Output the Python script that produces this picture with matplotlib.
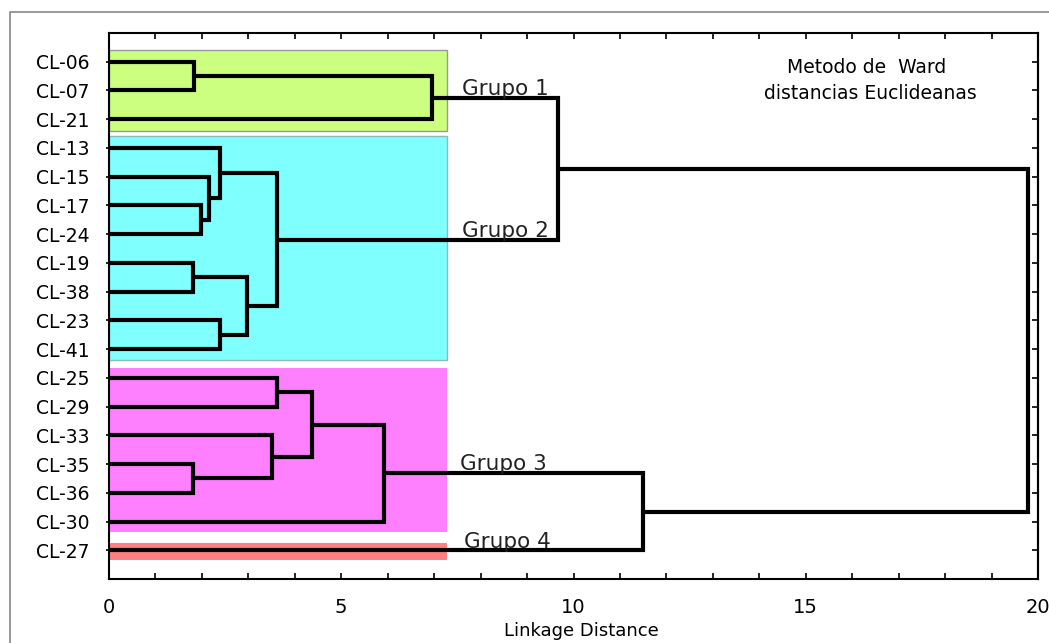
import matplotlib
matplotlib.use("Agg")
import matplotlib.pyplot as plt
from matplotlib.patches import Rectangle
from matplotlib.lines import Line2D
from matplotlib.ticker import MultipleLocator

# Hojas del dendrograma (de arriba abajo)
labels = ["CL-06", "CL-07", "CL-21", "CL-13", "CL-15", "CL-17", "CL-24",
          "CL-19", "CL-38", "CL-23", "CL-41", "CL-25", "CL-29", "CL-33",
          "CL-35", "CL-36", "CL-30", "CL-27"]

# Uniones: (nombre, hijo 1, hijo 2, distancia de union)
merges = [
    ("n1", "CL-06", "CL-07", 1.83),
    ("g1", "n1", "CL-21", 6.95),
    ("n2", "CL-17", "CL-24", 1.97),
    ("n3", "CL-15", "n2", 2.16),
    ("n4", "CL-13", "n3", 2.40),
    ("n5", "CL-19", "CL-38", 1.81),
    ("n6", "CL-23", "CL-41", 2.39),
    ("n7", "n5", "n6", 2.98),
    ("g2", "n4", "n7", 3.61),
    ("g12", "g1", "g2", 9.67),
    ("n8", "CL-25", "CL-29", 3.61),
    ("n9", "CL-35", "CL-36", 1.81),
    ("n10", "CL-33", "n9", 3.51),
    ("n11", "n8", "n10", 4.37),
    ("g3", "n11", "CL-30", 5.92),
    ("g34", "g3", "CL-27", 11.50),
    ("root", "g12", "g34", 19.78),
]

# Grupos: (texto, primera hoja, ultima hoja, color)
grupos = [
    ("Grupo 1", "CL-06", "CL-21", "#ccff80"),
    ("Grupo 2", "CL-13", "CL-41", "#80ffff"),
    ("Grupo 3", "CL-25", "CL-30", "#ff80ff"),
    ("Grupo 4", "CL-27", "CL-27", "#ff8080"),
]
grupo_nodos = ["g1", "g2", "g3", "CL-27"]

W, H = 1049, 643
fig = plt.figure(figsize=(W / 100, H / 100), dpi=100)
ax = fig.add_axes([109 / W, 1 - 579 / H, (1038 - 109) / W, (579 - 33) / H])

# posiciones
pos = {lab: (0.0, i) for i, lab in enumerate(labels)}
for name, a, b, h in merges:
    xa, ya = pos[a]
    xb, yb = pos[b]
    ax.plot([xa, h, h, xb], [ya, ya, yb, yb], color="black", lw=3,
            solid_joinstyle="miter", solid_capstyle="butt", zorder=3)
    pos[name] = (h, (ya + yb) / 2)

# rectangulos de grupos
rects = [(-0.42, 2.4), (2.6, 10.38), (10.66, 16.35), (16.74, 17.33)]
bordes = ["#999999", "#88bbbb", "none", "none"]
for (txt, a, b, col), (y0, y1), ec in zip(grupos, rects, bordes):
    ax.add_patch(Rectangle((0, y0), 7.28, y1 - y0, facecolor=col,
                           edgecolor=ec, lw=1, zorder=1))

# etiquetas de grupos
offs = [7.6, 7.6, 7.55, 7.65]
for (txt, a, b, col), nodo, xo in zip(grupos, grupo_nodos, offs):
    y = pos[nodo][1]
    ax.text(xo, y - 0.09, txt, fontsize=15.5, color="#222222",
            ha="left", va="baseline", zorder=4)

ax.text(16.3, 0.2, "Metodo de  Ward", fontsize=13.5, ha="center", va="center")
ax.text(16.4, 1.1, "distancias Euclideanas", fontsize=13.5, ha="center", va="center")

ax.set_xlim(0, 20)
ax.set_ylim(18, -1)
ax.set_xticks([0, 5, 10, 15, 20])
ax.xaxis.set_minor_locator(MultipleLocator(1))
ax.set_yticks(range(len(labels)))
ax.set_yticklabels(labels)

ax.tick_params(axis="x", which="both", direction="in", top=True, length=4,
               width=1.2, labelsize=14, pad=14)
ax.tick_params(axis="y", which="both", left=True, right=False, direction="out",
               length=2, width=1.2, labelsize=13.5, pad=12)
ax2 = ax.secondary_yaxis("right")
ax2.set_yticks(range(len(labels)))
ax2.tick_params(direction="in", length=4, width=1.2, labelright=False)
ax2.spines["right"].set_linewidth(1.5)

for s in ax.spines.values():
    s.set_linewidth(1.5)

fig.text(581 / W, 1 - 631 / H, "Linkage Distance", fontsize=13,
         ha="center", va="center")

# marco exterior gris
fig.add_artist(Line2D([10 / W, 10 / W, 1], [0, 1 - 12 / H, 1 - 12 / H],
                      color="#888888", lw=1.2, transform=fig.transFigure))

fig.savefig("out.png", dpi=100)
